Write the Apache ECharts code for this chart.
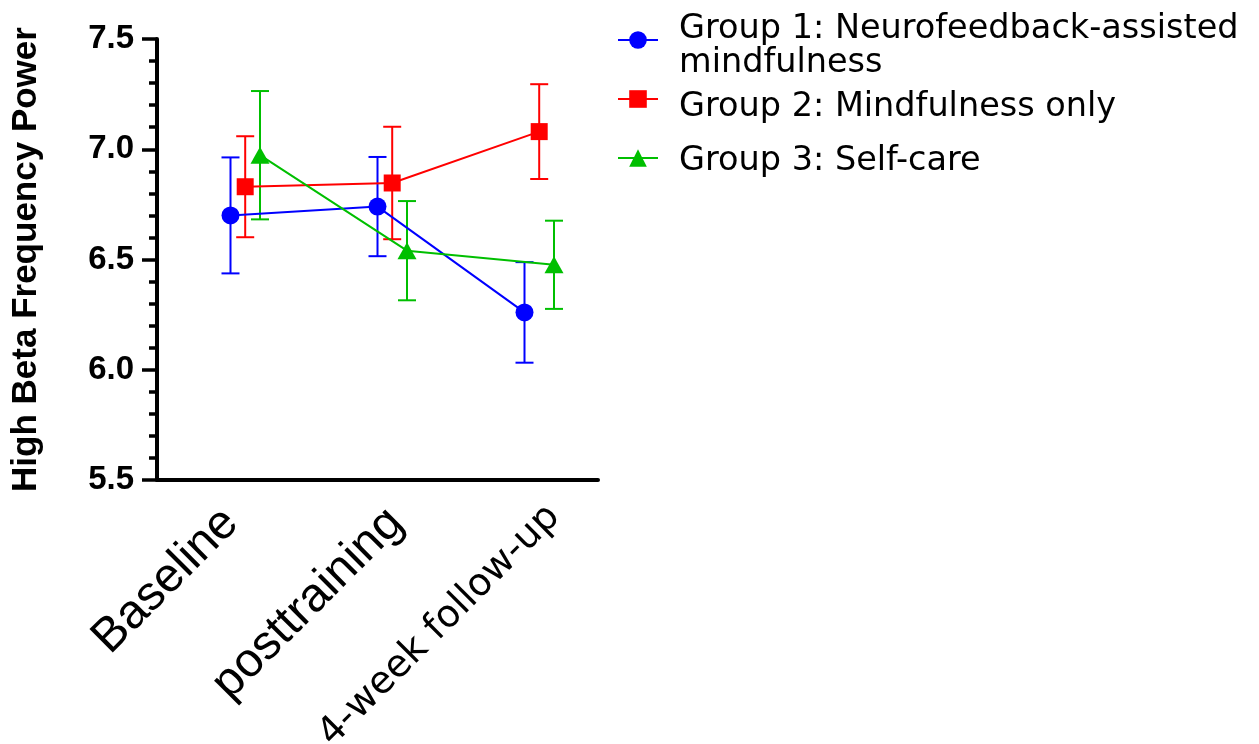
<!DOCTYPE html>
<html>
<head>
<meta charset="utf-8">
<script src="https://cdn.jsdelivr.net/npm/echarts@6/dist/echarts.min.js"></script>
<style>
  html, body { margin: 0; padding: 0; background: #ffffff; }
  #chart { width: 1259px; height: 744px; }
</style>
</head>
<body>
<div id="chart"></div>
<script>
// Time points on the x axis
const timepoints = ['Baseline', 'posttraining', '4-week follow-up'];

// Group labels
const groupNames = [
  'Group 1: Neurofeedback-assisted mindfulness',
  'Group 2: Mindfulness only',
  'Group 3: Self-care'
];

// Mean high beta power and its standard error per time point
const group1Mean = [6.70, 6.74, 6.26];
const group1Sem  = [0.263, 0.225, 0.228];
const group2Mean = [6.83, 6.847, 7.08];
const group2Sem  = [0.229, 0.255, 0.215];
const group3Mean = [6.973, 6.54, 6.476];
const group3Sem  = [0.291, 0.225, 0.20];

// Value axis range and tick step
const yMin = 5.5;
const yMax = 7.5;
const yStep = 0.5;

const groupMeans = [group1Mean, group2Mean, group3Mean];
const groupSems = [group1Sem, group2Sem, group3Sem];
const groupColors = ['#0000ff', '#ff0000', '#00bf00'];
const groupSymbols = ['circle', 'rect', 'triangle'];
const groupSymbolSizes = [18, 17, [19, 17]];
// each group is drawn in its own overlaid grid, nudged right so the bars don't overlap
const groupShift = [0, 14.7, 29.5];

const plotLeft = 157, plotTop = 39, plotSize = 441;

const chart = echarts.init(document.getElementById('chart'), null, { renderer: 'canvas' });

const grids = groupShift.map(s => ({
  left: plotLeft + s, top: plotTop, width: plotSize, height: plotSize,
  containLabel: false, outerBoundsMode: 'none'
}));

// per-category label look: the last label uses a lighter face and is centred
const labelStyleKey = ['first', 'mid', 'last'];
const categoryData = timepoints.map((t, i) =>
  i === 2 ? { value: t, textStyle: { align: 'center' } } : t
);

const xAxes = groupShift.map((s, i) => {
  if (i > 0) {
    return { type: 'category', gridIndex: i, data: timepoints, show: false, boundaryGap: true };
  }
  return {
    type: 'category',
    gridIndex: 0,
    data: categoryData,
    boundaryGap: true,
    axisLine: { onZero: false, lineStyle: { color: '#000', width: 4 } },
    axisTick: { alignWithLabel: true, length: 18, lineStyle: { color: '#000', width: 3.5 } },
    axisLabel: {
      interval: 0,
      rotate: 45,
      margin: 0,
      color: '#000',
      formatter: (v, idx) => '{' + labelStyleKey[idx] + '|' + v + '}',
      rich: {
        first: { fontFamily: 'Liberation Sans', fontSize: 48, color: '#000', padding: [51, 25, 0, 0] },
        mid: { fontFamily: 'Liberation Sans', fontSize: 48, color: '#000', padding: [76.7, 12.3, 0, 0] },
        last: { fontFamily: 'DejaVu Sans', fontSize: 38, color: '#000', padding: [86, 326, 0, 0] }
      }
    },
    splitLine: { show: false }
  };
});

const yAxes = groupShift.map((s, i) => {
  if (i > 0) {
    return { type: 'value', gridIndex: i, min: yMin, max: yMax, interval: yStep, show: false };
  }
  return {
    type: 'value',
    gridIndex: 0,
    min: yMin,
    max: yMax,
    interval: yStep,
    name: 'High Beta Frequency Power',
    nameLocation: 'middle',
    nameRotate: 90,
    nameGap: 113,
    nameTextStyle: { fontFamily: 'Liberation Sans', fontWeight: 'bold', fontSize: 35, color: '#000' },
    axisLine: { show: true, lineStyle: { color: '#000', width: 4 } },
    axisTick: { show: true, length: 15, lineStyle: { color: '#000', width: 3.5 } },
    minorTick: { show: true, splitNumber: 5, length: 8, lineStyle: { color: '#000', width: 3.5 } },
    axisLabel: {
      margin: 23,
      fontFamily: 'Liberation Sans',
      fontWeight: 'bold',
      fontSize: 33,
      color: '#000',
      formatter: v => v.toFixed(1)
    },
    splitLine: { show: false },
    minorSplitLine: { show: false }
  };
});

function makeErrorBars(color) {
  return function (params, api) {
    const x = api.value(0);
    const m = api.value(1);
    const s = api.value(2);
    const hi = api.coord([x, m + s]);
    const lo = api.coord([x, m - s]);
    const half = 9;
    const style = { stroke: color, lineWidth: 2, fill: null };
    return {
      type: 'group',
      children: [
        { type: 'line', shape: { x1: hi[0], y1: hi[1], x2: lo[0], y2: lo[1] }, style },
        { type: 'line', shape: { x1: hi[0] - half, y1: hi[1], x2: hi[0] + half, y2: hi[1] }, style },
        { type: 'line', shape: { x1: lo[0] - half, y1: lo[1], x2: lo[0] + half, y2: lo[1] }, style }
      ]
    };
  };
}

const lineSeries = groupNames.map((name, i) => ({
  name,
  type: 'line',
  xAxisIndex: i,
  yAxisIndex: i,
  data: groupMeans[i],
  symbol: groupSymbols[i],
  symbolSize: groupSymbolSizes[i],
  showAllSymbol: true,
  lineStyle: { color: groupColors[i], width: 2 },
  itemStyle: { color: groupColors[i] },
  z: 5,
  silent: true
}));

const errorSeries = groupNames.map((name, i) => ({
  name,
  type: 'custom',
  xAxisIndex: i,
  yAxisIndex: i,
  data: timepoints.map((t, k) => [k, groupMeans[i][k], groupSems[i][k]]),
  encode: { x: 0, y: 1 },
  renderItem: makeErrorBars(groupColors[i]),
  z: 3,
  silent: true
}));

// legend text: the first entry wraps onto two lines
const legendFormat = [
  n => '{l1|' + n.replace('assisted ', 'assisted}\n{l2|') + '}',
  n => '{one|' + n + '}',
  n => '{three|' + n + '}'
];
const legendTops = [12, 90, 144];
const legendFont = { fontFamily: 'DejaVu Sans', fontSize: 33.5, color: '#000' };
const legends = groupNames.map((name, i) => ({
  data: [name],
  left: 617,
  top: legendTops[i],
  padding: 0,
  orient: 'vertical',
  itemWidth: 40,
  itemHeight: 22,
  selectedMode: false,
  formatter: legendFormat[i],
  textStyle: {
    fontFamily: 'DejaVu Sans',
    fontSize: 33.5,
    color: '#000',
    padding: [0, 0, 0, 16],
    rich: {
      l1: Object.assign({ lineHeight: 46 }, legendFont),
      l2: Object.assign({ lineHeight: 22 }, legendFont),
      one: Object.assign({ lineHeight: 50, verticalAlign: 'bottom' }, legendFont),
      three: Object.assign({ lineHeight: 40, verticalAlign: 'bottom' }, legendFont)
    }
  }
}));

chart.setOption({
  animation: false,
  backgroundColor: '#ffffff',
  grid: grids,
  xAxis: xAxes,
  yAxis: yAxes,
  legend: legends,
  series: lineSeries.concat(errorSeries)
});
</script>
</body>
</html>
